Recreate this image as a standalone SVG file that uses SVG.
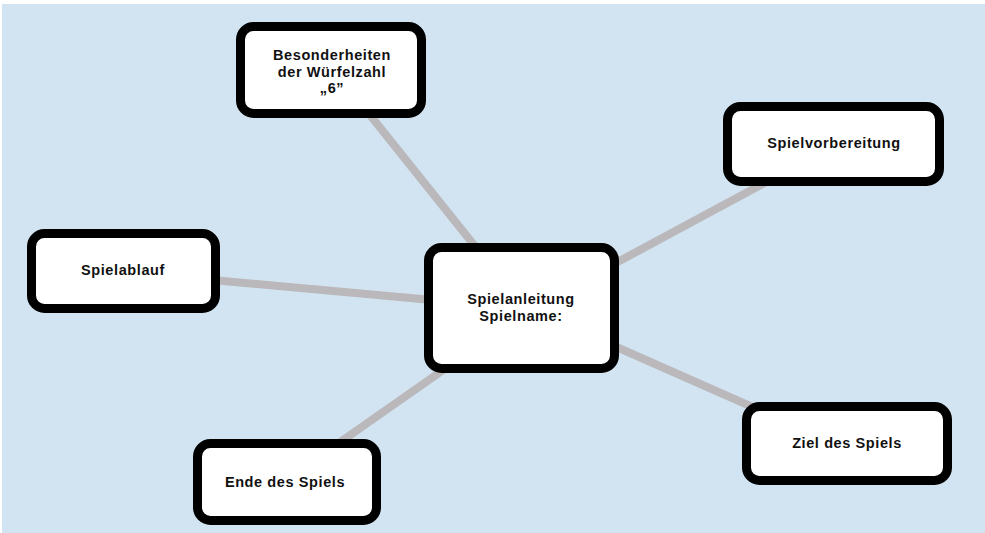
<svg xmlns="http://www.w3.org/2000/svg" width="985" height="533" viewBox="0 0 985 533">
<style>
.bg{fill:#d2e4f1}
.box{fill:#ffffff;stroke:#000000;stroke-width:9}
.link{stroke:#bab8bb;stroke-width:8;stroke-linecap:butt;fill:none}
.t{font-family:"Liberation Sans","Arial",sans-serif;font-weight:bold;font-size:14.5px;letter-spacing:0.6px;fill:#111111;text-anchor:middle}
</style>
<rect class="bg" x="2" y="4" width="983" height="529"/>
<g id="connectors">
<line class="link" x1="366" y1="110" x2="478" y2="250"/>
<line class="link" x1="770" y1="180" x2="612" y2="265"/>
<line class="link" x1="212" y1="280" x2="432" y2="300"/>
<line class="link" x1="336" y1="445" x2="446" y2="368"/>
<line class="link" x1="612" y1="345" x2="768" y2="414"/>
</g>
<g id="besonderheiten">
<rect class="box" x="240.5" y="26.5" width="181" height="87" rx="13"/>
<text class="t" x="332" y="60">Besonderheiten</text>
<text class="t" x="332" y="76.5">der Würfelzahl</text>
<text class="t" x="332" y="93">„6”</text>
</g>
<g id="spielvorbereitung">
<rect class="box" x="727.5" y="106.5" width="212" height="75" rx="13"/>
<text class="t" x="834" y="148">Spielvorbereitung</text>
</g>
<g id="spielablauf">
<rect class="box" x="31.5" y="233.5" width="184" height="75" rx="13"/>
<text class="t" x="123" y="275">Spielablauf</text>
</g>
<g id="zentrum">
<rect class="box" x="428.5" y="247.5" width="186" height="121" rx="13"/>
<text class="t" x="521" y="304">Spielanleitung</text>
<text class="t" x="521" y="320.5">Spielname:</text>
</g>
<g id="ende">
<rect class="box" x="197.5" y="443.5" width="179" height="77" rx="13"/>
<text class="t" x="285" y="487">Ende des Spiels</text>
</g>
<g id="ziel">
<rect class="box" x="746.5" y="406.5" width="201" height="74" rx="13"/>
<text class="t" x="847" y="448">Ziel des Spiels</text>
</g>
</svg>
